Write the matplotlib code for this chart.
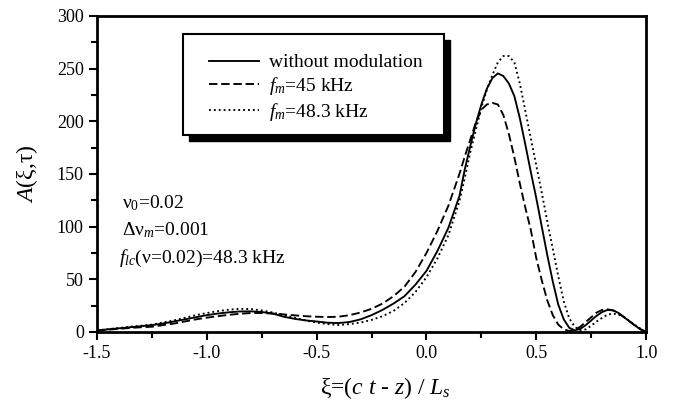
import matplotlib
matplotlib.use("Agg")
import matplotlib.pyplot as plt
from matplotlib.patches import Rectangle
from matplotlib.lines import Line2D
from matplotlib.ticker import MultipleLocator

plt.rcParams['font.family'] = ['Liberation Serif', 'DejaVu Serif']
plt.rcParams['mathtext.fontset'] = 'custom'
plt.rcParams['mathtext.rm'] = 'Liberation Serif'
plt.rcParams['mathtext.it'] = 'Liberation Serif:italic'
plt.rcParams['mathtext.bf'] = 'Liberation Serif:bold'

# ---- data ----
xi = [-1.5, -1.45, -1.4, -1.35, -1.3, -1.25, -1.2, -1.15, -1.1, -1.05,
      -1.0, -0.95, -0.9, -0.85, -0.8, -0.75, -0.7, -0.65, -0.6, -0.55,
      -0.5, -0.45, -0.4, -0.35, -0.3, -0.25, -0.2, -0.15, -0.1, -0.05,
      0.0, 0.05, 0.1, 0.15,
      0.175, 0.2, 0.225, 0.25, 0.275, 0.3, 0.325, 0.35, 0.375, 0.4,
      0.425, 0.45, 0.475, 0.5, 0.525, 0.55, 0.575, 0.6, 0.625, 0.65,
      0.675, 0.7, 0.725, 0.75, 0.775, 0.8, 0.825, 0.85, 0.875, 0.9,
      0.925, 0.95, 0.975, 1.0]

A_nomod = [1.5, 2.5, 3.5, 4.5, 5.5, 6.6, 8, 10, 12, 14,
           16, 17.5, 18.7, 19.5, 19.6, 19, 17.5, 14.5, 12.5, 11,
           10, 8.8, 8.5, 9.5, 12, 16, 21, 27, 34, 45,
           58, 77, 99, 129,
           155, 177, 198, 216, 231, 241, 245.5, 243, 236, 224,
           203, 178, 152, 127, 100, 73, 48, 26, 12, 4,
           1.5, 3, 6.5, 11, 15.5, 19, 21, 20.5, 18, 14,
           10, 6, 2.5, 0]

A_45 = [1.5, 2.2, 3, 3.8, 4.5, 5, 6.5, 8, 10, 12,
        13.6, 15, 16.3, 17.3, 18, 18, 17.5, 16.7, 15.8, 15,
        14.5, 14.2, 14.5, 16, 18.5, 22, 27, 34, 43, 57,
        75, 96, 120, 150,
        167, 183, 199, 211, 216, 217.5, 216, 206, 188, 166,
        141, 118, 97, 70, 49, 30, 16, 7, 2.5, 1,
        2, 5, 9.5, 14, 18.5, 21, 21.5, 20.5, 17.5, 14,
        10, 6, 2.5, 0]

A_483 = [1.5, 2.7, 3.8, 5, 6, 7, 9, 11, 13.5, 16,
         18, 19.8, 21.2, 22, 21.8, 20.5, 18.5, 16, 13.5, 11,
         8.9, 7.5, 6.6, 7.5, 9, 11.5, 15, 20, 27.5, 38,
         52, 70, 92, 124,
         147, 171, 192, 213, 230, 244, 256, 262, 262, 256,
         236, 210, 184, 158, 132, 105, 79, 53, 29, 13,
         5, 1.5, 2.5, 6, 10, 13.5, 16.5, 17.5, 16.5, 14,
         10.5, 6.5, 3, 0]

labels = ["without modulation", "$f_m$=45 kHz", "$f_m$=48.3 kHz"]
xticks = [-1.5, -1.0, -0.5, 0.0, 0.5, 1.0]
yticks = [0, 50, 100, 150, 200, 250, 300]

# ---- figure ----
fig = plt.figure(figsize=(6.78, 4.0), dpi=100)
ax = fig.add_axes([0.143, 0.17, 0.810, 0.790])

lw = 1.35
ax.plot(xi, A_nomod, color='black', lw=lw, ls='-')
ax.plot(xi, A_45, color='black', lw=lw, ls=(0, (4.5, 2)))
ax.plot(xi, A_483, color='black', lw=lw, ls=(0, (1, 1.6)))

ax.set_xlim(-1.5, 1.0)
ax.set_ylim(0, 300)
ax.set_xticks(xticks)
ax.set_xticklabels([f"{t:.1f}" for t in xticks])
ax.set_yticks(yticks)
ax.xaxis.set_minor_locator(MultipleLocator(0.25))
ax.yaxis.set_minor_locator(MultipleLocator(25))
ax.tick_params(which='both', direction='out', width=1.5, labelsize=13,
               top=False, right=False)
ax.tick_params(which='major', length=6)
ax.tick_params(which='minor', length=4)
for s in ax.spines.values():
    s.set_linewidth(2)

ax.set_xlabel("ξ=($c$ $t$ - $z$) / $L_s$", fontsize=17)
ax.xaxis.set_label_coords(0.525, -0.135)
ax.set_ylabel("$A$(ξ,τ)", fontsize=17, labelpad=12)

# legend box with solid black shadow
bx0, by0, bw, bh = 0.157, 0.622, 0.475, 0.321
ax.add_patch(Rectangle((bx0 + 0.010, by0 - 0.0174), bw, bh, transform=ax.transAxes,
                       facecolor='black', edgecolor='black', zorder=5))
ax.add_patch(Rectangle((bx0, by0), bw, bh, transform=ax.transAxes,
                       facecolor='white', edgecolor='black', lw=1.5, zorder=6))
handles = [Line2D([], [], color='black', lw=lw, ls='-'),
           Line2D([], [], color='black', lw=lw, ls=(0, (4.5, 2))),
           Line2D([], [], color='black', lw=lw, ls=(0, (1, 1.6)))]
leg = ax.legend(handles, labels, loc='upper left', bbox_to_anchor=(0.189, 0.905),
                frameon=False, fontsize=14, handlelength=2.6, handletextpad=0.5,
                labelspacing=0.2, borderaxespad=0)
leg.set_zorder(7)

ax.text(0.045, 0.39, "ν$_0$=0.02", transform=ax.transAxes, fontsize=14)
ax.text(0.045, 0.305, "Δν$_m$=0.001", transform=ax.transAxes, fontsize=14)
ax.text(0.04, 0.22, "$f_{lc}$(ν=0.02)=48.3 kHz", transform=ax.transAxes, fontsize=14)

fig.savefig("out.png", dpi=100)
